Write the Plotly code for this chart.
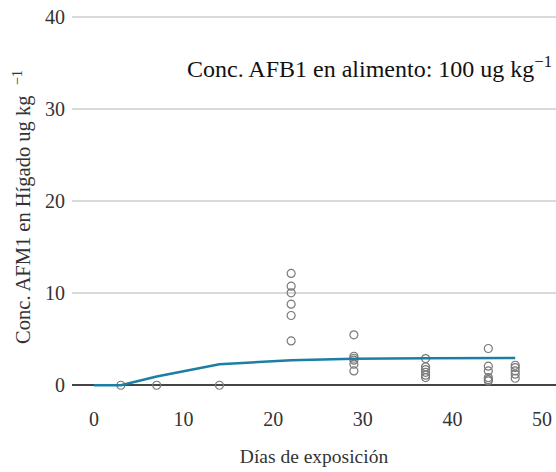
import plotly.graph_objects as go

# observed points
obs_days = [3, 7, 14,
            22, 22, 22, 22, 22, 22,
            29, 29, 29, 29, 29, 29,
            37, 37, 37, 37, 37, 37,
            44, 44, 44, 44, 44, 44,
            47, 47, 47, 47, 47]
obs_conc = [0, 0, 0,
            12.14, 10.76, 10.03, 8.8, 7.57, 4.81,
            5.47, 3.15, 2.93, 2.72, 2.28, 1.56,
            2.9, 2.0, 1.7, 1.4, 1.1, 0.83,
            3.99, 2.07, 1.56, 0.83, 0.62, 0.47,
            2.17, 1.92, 1.56, 1.2, 0.76]

# fitted model line
fit_days = [0, 3, 7, 14, 22, 29, 37, 44, 47]
fit_conc = [0, 0, 0.95, 2.28, 2.72, 2.88, 2.93, 2.97, 2.97]

x_ticks = [0, 10, 20, 30, 40, 50]
y_ticks = [0, 10, 20, 30, 40]

serif = "Liberation Serif"

fig = go.Figure()
fig.add_trace(go.Scatter(
    x=obs_days, y=obs_conc, mode="markers",
    marker=dict(symbol="circle-open", size=8, color="#7a7a7a", line=dict(width=1.2)),
    showlegend=False, hoverinfo="skip"))
fig.add_trace(go.Scatter(
    x=fit_days, y=fit_conc, mode="lines",
    line=dict(color="#1b7fa3", width=2.5),
    showlegend=False, hoverinfo="skip"))

fig.add_annotation(
    text="Conc. AFB1 en alimento: 100 ug kg<sup>−1</sup>",
    xref="paper", yref="paper", x=0.995, y=0.862, xanchor="right", yanchor="middle",
    showarrow=False, font=dict(family=serif, size=24, color="#111111"))

fig.update_layout(
    width=556, height=472,
    margin=dict(l=72, r=0, t=14, b=72),
    plot_bgcolor="white", paper_bgcolor="white",
    font=dict(family=serif, size=20, color="#333333"),
    xaxis=dict(range=[-2.45, 51.55], tickvals=x_ticks, showgrid=False,
               zeroline=False, showline=False, ticks="",
               ticklabelstandoff=5,
               title=dict(text="Días de exposición", font=dict(family=serif, size=19.5, color="#333333"),
                          standoff=20)),
    yaxis=dict(range=[-1.6, 40.3], tickvals=y_ticks, showgrid=True, gridcolor="#d9d9d9",
               gridwidth=1.5, zeroline=True, zerolinecolor="#444444", zerolinewidth=2,
               showline=False, ticks="", ticklabelstandoff=6,
               title=dict(text="Conc. AFM1 en Hígado ug kg\u00a0\u00a0<sup>−1</sup>",
                          font=dict(family=serif, size=20.5, color="#333333"), standoff=8)),
)

fig.write_html("out.html")
